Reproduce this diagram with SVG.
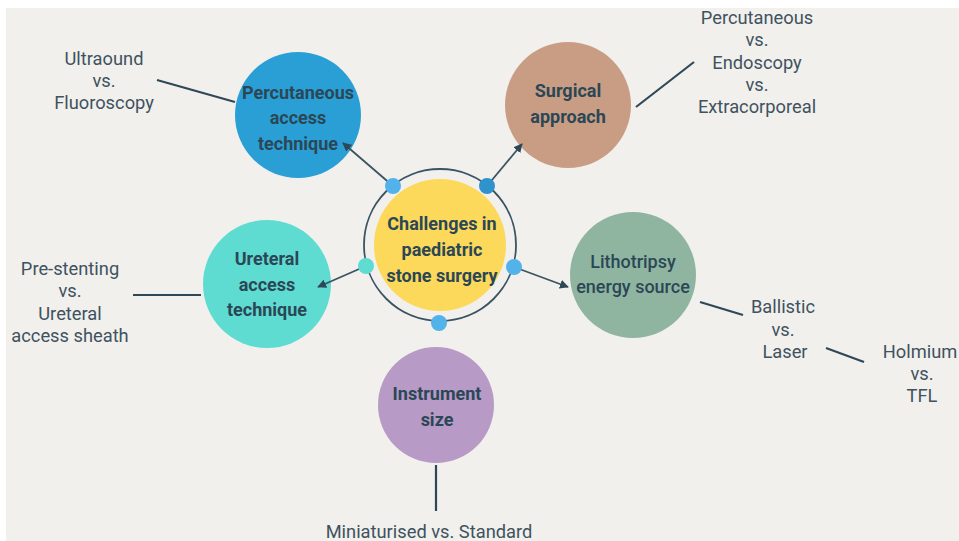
<svg xmlns="http://www.w3.org/2000/svg" width="959" height="541" viewBox="0 0 959 541">
<defs>
<style>
.node{font-family:Roboto,"Liberation Sans",sans-serif;font-weight:bold;font-size:18px;fill:#2b4756;text-anchor:middle}
.lbl{font-family:Roboto,"Liberation Sans",sans-serif;font-size:18.3px;fill:#3f5260;text-anchor:middle}
.ln{stroke:#2f4858;stroke-width:2.2;fill:none}
.ar{stroke:#3a5464;stroke-width:1.8;fill:none;marker-end:url(#ah)}
</style>
<marker id="ah" viewBox="0 0 10 10" refX="9" refY="5" markerWidth="5" markerHeight="5" orient="auto">
<path d="M0,0 L10,5 L0,10 z" fill="#2f4858"/>
</marker>
</defs>
<rect x="0" y="0" width="959" height="541" fill="#ffffff"/>
<rect x="6" y="8" width="953" height="533" fill="#f1f0ec"/>
<g id="percutaneous">
<circle cx="298" cy="115" r="63" fill="#2a9fd6"/>
<text class="node" x="298" y="99">Percutaneous</text>
<text class="node" x="298" y="124">access</text>
<text class="node" x="298" y="150">technique</text>
</g>
<g id="surgical">
<circle cx="568" cy="105" r="63" fill="#c99d83"/>
<text class="node" x="568" y="97">Surgical</text>
<text class="node" x="568" y="123">approach</text>
</g>
<g id="ureteral">
<circle cx="267" cy="284" r="64" fill="#5fdcd1"/>
<text class="node" x="267" y="265">Ureteral</text>
<text class="node" x="267" y="291">access</text>
<text class="node" x="267" y="316">technique</text>
</g>
<g id="lithotripsy">
<circle cx="633" cy="275" r="63" fill="#8fb5a0"/>
<text class="node" x="633" y="268" style="font-weight:500">Lithotripsy</text>
<text class="node" x="633" y="293" style="font-weight:500">energy source</text>
</g>
<g id="instrument">
<circle cx="436" cy="405" r="58" fill="#b89ac6"/>
<text class="node" x="437" y="400">Instrument</text>
<text class="node" x="437" y="426">size</text>
</g>
<g id="connectors">
<line class="ar" x1="393" y1="186" x2="343" y2="143"/>
<line class="ar" x1="487" y1="186" x2="522" y2="144"/>
<line class="ar" x1="366" y1="266" x2="318" y2="287"/>
<line class="ar" x1="514" y1="267" x2="568" y2="287"/>
<line class="ln" x1="157" y1="80" x2="235" y2="102"/>
<line class="ln" x1="636" y1="107" x2="694" y2="62"/>
<line class="ln" x1="133" y1="295" x2="201" y2="295"/>
<line class="ln" x1="700" y1="302" x2="743" y2="315"/>
<line class="ln" x1="826" y1="348" x2="864" y2="362"/>
<line class="ln" x1="436" y1="465" x2="436" y2="511"/>
</g>
<g id="center">
<circle cx="440" cy="245" r="76" fill="none" stroke="#3a5464" stroke-width="1.8"/>
<circle cx="440" cy="245" r="66" fill="#fcd95a"/>
<text class="node" x="442" y="230">Challenges in</text>
<text class="node" x="442" y="256">paediatric</text>
<text class="node" x="442" y="282">stone surgery</text>
<circle cx="393" cy="186" r="8" fill="#52b3ea"/>
<circle cx="487" cy="186" r="8" fill="#2e93cc"/>
<circle cx="366" cy="266" r="8" fill="#5fdcd1"/>
<circle cx="514" cy="267" r="8" fill="#52b3ea"/>
<circle cx="439" cy="323" r="8" fill="#52b3ea"/>
</g>
<g id="labels">
<text class="lbl" x="104" y="65">Ultraound</text>
<text class="lbl" x="104" y="87">vs.</text>
<text class="lbl" x="104" y="109">Fluoroscopy</text>
<text class="lbl" x="757" y="24">Percutaneous</text>
<text class="lbl" x="757" y="46">vs.</text>
<text class="lbl" x="757" y="69">Endoscopy</text>
<text class="lbl" x="757" y="91">vs.</text>
<text class="lbl" x="757" y="113">Extracorporeal</text>
<text class="lbl" x="70" y="275">Pre-stenting</text>
<text class="lbl" x="70" y="297">vs.</text>
<text class="lbl" x="70" y="320">Ureteral</text>
<text class="lbl" x="70" y="342">access sheath</text>
<text class="lbl" x="783" y="313">Ballistic</text>
<text class="lbl" x="783" y="336">vs.</text>
<text class="lbl" x="785" y="358">Laser</text>
<text class="lbl" x="920" y="358">Holmium</text>
<text class="lbl" x="922" y="380">vs.</text>
<text class="lbl" x="922" y="402">TFL</text>
<text class="lbl" x="429" y="538">Miniaturised vs. Standard</text>
</g>
</svg>
